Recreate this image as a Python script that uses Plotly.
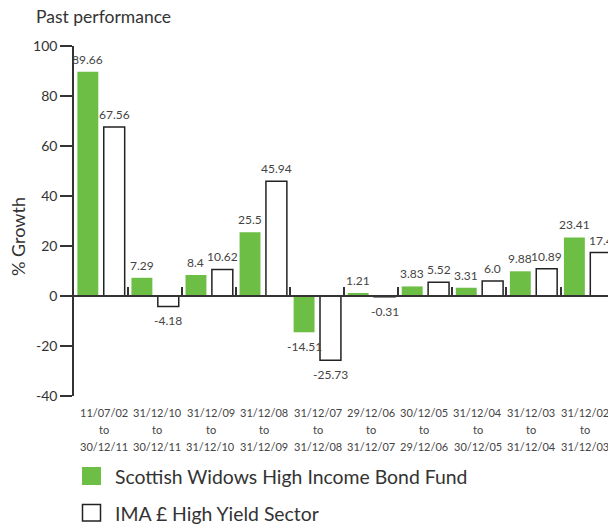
import plotly.graph_objects as go

# Discrete annual performance periods (start, end)
period_start = ["11/07/02", "31/12/10", "31/12/09", "31/12/08", "31/12/07",
                "29/12/06", "30/12/05", "31/12/04", "31/12/03", "31/12/02"]
period_end = ["30/12/11", "30/12/11", "31/12/10", "31/12/09", "31/12/08",
              "31/12/07", "29/12/06", "30/12/05", "31/12/04", "31/12/03"]
fund_growth = [89.66, 7.29, 8.4, 25.5, -14.51, 1.21, 3.83, 3.31, 9.88, 23.41]
sector_growth = [67.56, -4.18, 10.62, 45.94, -25.73, -0.31, 5.52, 6.0, 10.89, 17.4]
fund_name = "Scottish Widows High Income Bond Fund"
sector_name = "IMA £ High Yield Sector"
y_ticks = [-40, -20, 0, 20, 40, 60, 80, 100]

periods = [f"{s} to {e}" for s, e in zip(period_start, period_end)]

GREEN = "#6DBE45"
INK = "#333333"
LABEL = "#444444"
FONT = "Lato"

W, H = 608, 526
L, T, B = 74, 46, 130
plot_w, plot_h = W - L, H - T - B


def px_x(p):
    return (p - L) / plot_w


def px_y(p):
    return (H - B - p) / plot_h


fig = go.Figure()
fig.add_bar(
    x=periods, y=fund_growth, name=fund_name,
    marker=dict(color=GREEN, line=dict(width=0)),
)
fig.add_bar(
    x=periods, y=sector_growth, name=sector_name,
    marker=dict(color="white", line=dict(color="#222222", width=1.5)),
)

annotations = []

# Value labels above positive bars and below negative ones
BAR_OFFSET = 13.2  # half the distance between paired bar centres, px
for series, side in ((fund_growth, -1), (sector_growth, 1)):
    for p, v in zip(periods, series):
        annotations.append(dict(
            x=p, y=v, xref="x", yref="y", text=str(v), showarrow=False,
            xshift=side * BAR_OFFSET,
            yanchor="bottom" if v >= 0 else "top",
            yshift=3 if v >= 0 else -5,
            font=dict(family=FONT, size=12, color=LABEL),
        ))

# Period labels under the plot, one line each; the row is set slightly
# tighter than the bar groups so the last label stays on the page
n = len(periods)
for i, (p, s, e) in enumerate(zip(periods, period_start, period_end)):
    shift = 3 - 6 * i / (n - 1)
    for text, ypix in ((s, 413), ("to", 429.5), (e, 446)):
        annotations.append(dict(
            x=p, xref="x", y=px_y(ypix), yref="paper", text=text,
            showarrow=False, xanchor="center", yanchor="middle",
            xshift=shift,
            font=dict(family=FONT, size=11, color=LABEL),
        ))

annotations += [
    dict(x=px_x(34), y=px_y(17), xref="paper", yref="paper",
         text="Past performance", showarrow=False, xanchor="left",
         yanchor="middle", font=dict(family=FONT, size=17.5, color=INK)),
    dict(x=px_x(18), y=px_y(237), xref="paper", yref="paper",
         text="% Growth", showarrow=False, textangle=-90,
         xanchor="center", yanchor="middle",
         font=dict(family=FONT, size=18, color=INK)),
    dict(x=px_x(112.5), y=px_y(476), xref="paper", yref="paper",
         text=fund_name, showarrow=False, xanchor="left", yanchor="middle",
         font=dict(family=FONT, size=19.4, color=INK)),
    dict(x=px_x(112.5), y=px_y(513), xref="paper", yref="paper",
         text=sector_name, showarrow=False, xanchor="left", yanchor="middle",
         font=dict(family=FONT, size=19.4, color=INK)),
]

# Legend keys
shapes = [
    dict(type="rect", xref="paper", yref="paper",
         x0=px_x(82), x1=px_x(101), y0=px_y(485), y1=px_y(467),
         fillcolor=GREEN, line=dict(width=0)),
    dict(type="rect", xref="paper", yref="paper",
         x0=px_x(82.5), x1=px_x(100.5), y0=px_y(521), y1=px_y(504.5),
         fillcolor="white", line=dict(color="#222222", width=1.5)),
]

y_min, y_max = -40, 100
fig.update_layout(
    width=W, height=H,
    margin=dict(l=L, r=0, t=T, b=B, pad=0),
    paper_bgcolor="white", plot_bgcolor="white",
    barmode="group", bargap=0.024, bargroupgap=0.207,
    showlegend=False,
    annotations=annotations, shapes=shapes,
    font=dict(family=FONT, color=INK),
    xaxis=dict(
        type="category", range=[-0.5, 9.378],
        anchor="free", position=(0 - y_min) / (y_max - y_min),
        showline=True, linecolor=INK, linewidth=1.5,
        ticks="inside", tickson="boundaries", ticklen=8,
        tickcolor=INK, tickwidth=1.5,
        showticklabels=False, showgrid=False, zeroline=False,
    ),
    yaxis=dict(
        range=[y_min, y_max], tickmode="array", tickvals=y_ticks,
        ticktext=[str(v) for v in y_ticks],
        showline=True, linecolor=INK, linewidth=1.5,
        ticks="outside", ticklen=12, tickcolor=INK, tickwidth=1.5,
        showgrid=False, zeroline=False,
        tickfont=dict(family=FONT, size=14, color=INK),
    ),
)

fig.write_html("out.html")
